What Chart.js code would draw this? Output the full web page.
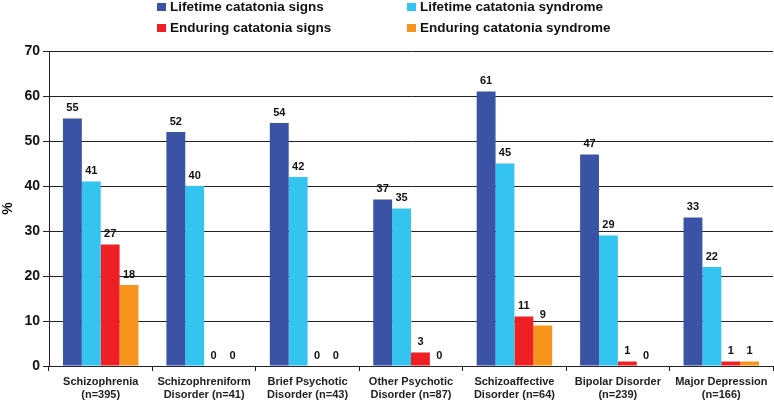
<!DOCTYPE html>
<html>
<head>
<meta charset="utf-8">
<script src="https://cdn.jsdelivr.net/npm/chart.js@4"></script>
<style>
  html, body { margin: 0; padding: 0; background: #fff; }
  #wrap { position: relative; width: 774px; height: 401px; }
  #legend { position: absolute; left: 0; top: 0; width: 774px; height: 40px;
    font-family: "Liberation Sans", Arial, sans-serif;
    font-weight: bold; font-size: 13.5px; color: #111; }
  .item { position: absolute; white-space: nowrap; line-height: 16px; }
  .box { display: inline-block; width: 9px; height: 8px; margin-right: 4px; vertical-align: 0px; }
</style>
</head>
<body>
<div id="wrap">
  <canvas id="chart" width="774" height="401"></canvas>
  <div id="legend"></div>
</div>
<script>
var categories = [
  ['Schizophrenia', '(n=395)'],
  ['Schizophreniform', 'Disorder (n=41)'],
  ['Brief Psychotic', 'Disorder (n=43)'],
  ['Other Psychotic', 'Disorder (n=87)'],
  ['Schizoaffective', 'Disorder (n=64)'],
  ['Bipolar Disorder', '(n=239)'],
  ['Major Depression', '(n=166)']
]

var lifetimeSigns = [ 55, 52, 54, 37, 61, 47, 33 ]
var lifetimeSyndrome = [ 41, 40, 42, 35, 45, 29, 22 ]
var enduringSigns = [ 27, 0, 0, 3, 11, 1, 1 ]
var enduringSyndrome = [ 18, 0, 0, 0, 9, 0, 1 ]

var seriesNames = [
  'Lifetime catatonia signs',
  'Lifetime catatonia syndrome',
  'Enduring catatonia signs',
  'Enduring catatonia syndrome'
]
var seriesColors = [ '#3a53a4', '#33c4f0', '#ee2024', '#f7941d' ]

// legend in two columns, like the original
var legendPos = [ [157, -1], [407, -1], [157, 20], [407, 20] ]
var legendEl = document.getElementById('legend')
seriesNames.forEach(function (name, i) {
  var d = document.createElement('div')
  d.className = 'item'
  d.style.left = legendPos[i][0] + 'px'
  d.style.top = legendPos[i][1] + 'px'
  d.innerHTML = '<span class="box" style="background:' + seriesColors[i] + '"></span>' + name
  legendEl.appendChild(d)
})

var valueLabels = {
  id: 'valueLabels',
  afterDatasetsDraw: function (chart) {
    var ctx = chart.ctx
    ctx.save()
    ctx.font = 'bold 11px "Liberation Sans", Arial, sans-serif'
    ctx.fillStyle = '#111'
    ctx.textAlign = 'center'
    ctx.textBaseline = 'bottom'
    chart.data.datasets.forEach(function (ds, i) {
      chart.getDatasetMeta(i).data.forEach(function (bar, j) {
        ctx.fillText(ds.data[j], bar.x, bar.y - 5)
      })
    })
    ctx.restore()
  }
}

var datasets = [ lifetimeSigns, lifetimeSyndrome, enduringSigns, enduringSyndrome ].map(function (vals, i) {
  return {
    label: seriesNames[i],
    data: vals,
    backgroundColor: seriesColors[i],
    borderWidth: 0,
    categoryPercentage: 0.73,
    barPercentage: 1
  }
})

new Chart(document.getElementById('chart'), {
  type: 'bar',
  data: { labels: categories, datasets: datasets },
  plugins: [ valueLabels ],
  options: {
    responsive: false,
    animation: false,
    layout: { padding: { top: 51, right: 1, left: 0, bottom: 0 } },
    plugins: {
      legend: { display: false },
      tooltip: { enabled: false }
    },
    scales: {
      x: {
        offset: true,
        grid: { offset: true, drawOnChartArea: false, drawTicks: true, tickLength: 5, color: '#222' },
        border: { color: '#222', width: 1 },
        ticks: {
          color: '#222',
          padding: 4,
          maxRotation: 0,
          autoSkip: false,
          font: { family: '"Liberation Sans", Arial, sans-serif', weight: 'bold', size: 11, lineHeight: 1.2 }
        },
        afterFit: function (s) { s.height = 35 }
      },
      y: {
        min: 0,
        max: 70,
        ticks: {
          stepSize: 10,
          color: '#111',
          padding: 3,
          font: { family: '"Liberation Sans", Arial, sans-serif', weight: 'bold', size: 14 }
        },
        grid: { color: '#222', tickLength: 6 },
        border: { color: '#222', width: 1 },
        title: {
          display: true,
          text: '%',
          color: '#111',
          padding: { top: 0, bottom: 6 },
          font: { family: '"Liberation Sans", Arial, sans-serif', weight: 'bold', size: 14 }
        },
        afterFit: function (s) { s.width = 49 }
      }
    }
  }
})
</script>
</body>
</html>
